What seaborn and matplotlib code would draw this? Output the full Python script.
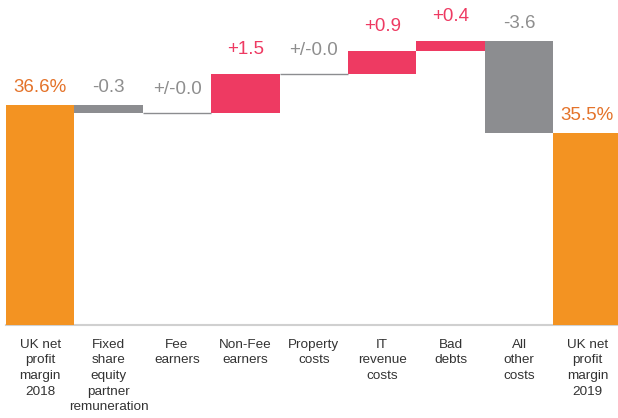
#!/usr/bin/env python3
"""
UK net profit margin bridge 2018 -> 2019 (waterfall).
"""

import numpy as np
import pandas as pd
import matplotlib
matplotlib.use("Agg")
import matplotlib.pyplot as plt
import seaborn as sns

# Data
categories = [
    "UK net\nprofit\nmargin\n2018",
    "Fixed\nshare\nequity\npartner\nremuneration",
    "Fee\nearners",
    "Non-Fee\nearners",
    "Property\ncosts",
    "IT\nrevenue\ncosts",
    "Bad\ndebts",
    "All\nother\ncosts",
    "UK net\nprofit\nmargin\n2019",
]
start_margin = 36.6
end_margin = 35.5
changes = [-0.3, 0.0, 1.5, 0.0, 0.9, 0.4, -3.6]

ORANGE = "#F39322"
ORANGE_TXT = "#E4732A"
PINK = "#EE3A62"
GREY = "#8C8D90"
GREY_TXT = "#8E8E8E"

# Build floating bars
bottoms, heights, colors, text_colors, labels = [], [], [], [], []
bottoms.append(0.0)
heights.append(start_margin)
colors.append(ORANGE)
text_colors.append(ORANGE_TXT)
labels.append(f"{start_margin:.1f}%")
level = start_margin
for c in changes:
    lo = min(level, level + c)
    bottoms.append(lo)
    heights.append(abs(c))
    if c > 0:
        colors.append(PINK)
        text_colors.append(PINK)
        labels.append(f"+{c:.1f}")
    elif c < 0:
        colors.append(GREY)
        text_colors.append(GREY_TXT)
        labels.append(f"{c:.1f}")
    else:
        colors.append(GREY)
        text_colors.append(GREY_TXT)
        labels.append("+/-0.0")
    level += c
bottoms.append(0.0)
heights.append(end_margin)
colors.append(ORANGE)
text_colors.append(ORANGE_TXT)
labels.append(f"{end_margin:.1f}%")

df = pd.DataFrame({"category": categories, "height": heights})

sns.set_theme(style="white")
plt.rcParams["font.family"] = ["Liberation Sans", "DejaVu Sans"]

fig = plt.figure(figsize=(6.18, 4.18), dpi=100)
ax = fig.add_axes([6 / 618, 93 / 418, 612 / 618, 325 / 418])

sns.barplot(data=df, x="category", y="height", hue="category",
            palette=colors, width=1.0, legend=False, ax=ax,
            saturation=1.0, linewidth=0)

# turn the plain bars into floating ones
for i, patch in enumerate(ax.patches):
    patch.set_y(bottoms[i])
    patch.set_height(heights[i])
    patch.set_facecolor(colors[i])
    patch.set_edgecolor("none")

# zero-change steps drawn as thin lines
for i, h in enumerate(heights):
    if h == 0:
        ax.hlines(bottoms[i], i - 0.5, i + 0.5, color=GREY, linewidth=1.0)

# value labels
for i, (b, h) in enumerate(zip(bottoms, heights)):
    if colors[i] == PINK:
        off = 18
    elif h == 0:
        off = 17
    else:
        off = 12.5
    ax.annotate(labels[i], xy=(i, b + h), xytext=(0, off),
                textcoords="offset points", ha="center", va="center",
                fontsize=13.5, color=text_colors[i])

ax.set_xlim(-0.5, -0.5 + 612 / 68.4)
ax.set_ylim(27.97, 40.72)
ax.set_xlabel("")
ax.set_ylabel("")
ax.set_yticks([])
ax.tick_params(axis="x", length=0, pad=10, labelsize=9.7, labelcolor="#333333")
for lbl in ax.get_xticklabels():
    lbl.set_linespacing(1.4)
    lbl.set_va("top")

for s in ["top", "left", "right"]:
    ax.spines[s].set_visible(False)
ax.spines["bottom"].set_color("#D0D0D0")
ax.spines["bottom"].set_linewidth(1.5)
ax.spines["bottom"].set_zorder(0)

fig.savefig("out.png", dpi=100)
